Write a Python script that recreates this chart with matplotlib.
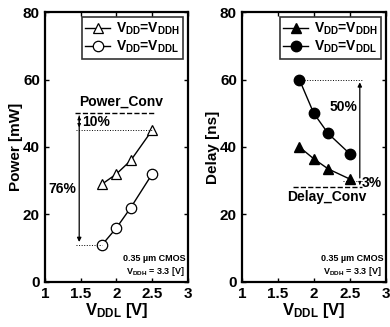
import numpy as np
import matplotlib
matplotlib.use('Agg')
import matplotlib.pyplot as plt

plt.rcParams['font.family'] = ['Liberation Sans', 'DejaVu Sans']
plt.rcParams['font.weight'] = 'bold'
plt.rcParams['mathtext.fontset'] = 'custom'
plt.rcParams['mathtext.bf'] = 'Liberation Sans:bold'
plt.rcParams['mathtext.rm'] = 'Liberation Sans:bold'
plt.rcParams['mathtext.default'] = 'bf'

# data
vddl = [1.8, 2.0, 2.2, 2.5]
power_h = [29, 32, 36, 45]
power_l = [11, 16, 22, 32]
delay_h = [40, 36.5, 33.5, 30.5]
delay_l = [60, 50, 44, 38]
power_conv = 50
delay_conv = 28

lab_h = r'V$_{DD}$=V$_{DDH}$'
lab_l = r'V$_{DD}$=V$_{DDL}$'

fig = plt.figure(figsize=(3.9, 3.27), dpi=100)
ax1 = fig.add_axes([0.115, 0.138, 0.367, 0.825])
ax2 = fig.add_axes([0.620, 0.138, 0.369, 0.825])

def style(ax, ylabel):
    ax.set_xlim(1, 3)
    ax.set_ylim(0, 80)
    ax.set_xticks([1, 1.5, 2, 2.5, 3])
    ax.set_xticklabels(['1', '1.5', '2', '2.5', '3'])
    ax.set_yticks([0, 20, 40, 60, 80])
    ax.tick_params(direction='in', top=True, right=True, labelsize=11, width=1, length=3)
    for lab in ax.get_xticklabels() + ax.get_yticklabels():
        lab.set_fontweight('bold')
    for s in ax.spines.values():
        s.set_linewidth(1.6)
    ax.set_xlabel(r'V$_{DDL}$ [V]', fontsize=12, fontweight='bold', labelpad=0)
    ax.set_ylabel(ylabel, fontsize=11, fontweight='bold', labelpad=0)
    ax.text(2.97, 7, '0.35 µm CMOS', fontsize=6.5, fontweight='bold', ha='right', va='center')
    ax.text(2.95, 3, r'V$_{DDH}$ = 3.3 [V]', fontsize=6.5, fontweight='bold', ha='right', va='center')

def legend(ax):
    leg = ax.legend(loc='upper right', fontsize=10, frameon=True, fancybox=False, edgecolor='black',
                    handlelength=1.8, handletextpad=0.4, borderpad=0.25, labelspacing=0.15,
                    borderaxespad=0.35)
    leg.get_frame().set_linewidth(1.2)

# power panel
ax1.plot(vddl, power_h, color='black', lw=1, marker='^', ms=7.5, mfc='white', mec='black', mew=0.9, label=lab_h)
ax1.plot(vddl, power_l, color='black', lw=1, marker='o', ms=7.5, mfc='white', mec='black', mew=0.9, label=lab_l)
ax1.plot([1.42, 2.54], [power_conv, power_conv], 'k--', lw=1)
ax1.plot([1.44, 2.5], [power_h[-1], power_h[-1]], 'k:', lw=0.7)
ax1.plot([1.43, 1.8], [power_l[0], power_l[0]], 'k:', lw=0.7)
ax1.annotate('', xy=(1.48, power_h[-1]), xytext=(1.48, power_conv),
             arrowprops=dict(arrowstyle='<|-|>', color='black', lw=0.7, mutation_scale=5))
ax1.annotate('', xy=(1.48, power_l[0]), xytext=(1.48, power_conv),
             arrowprops=dict(arrowstyle='-|>', color='black', lw=0.9, mutation_scale=6))
ax1.text(2.06, 53.4, 'Power_Conv', fontsize=10, fontweight='bold', ha='center', va='center')
ax1.text(1.52, 47.3, '10%', fontsize=10, fontweight='bold', ha='left', va='center')
ax1.text(1.25, 27.5, '76%', fontsize=10, fontweight='bold', ha='center', va='center')
legend(ax1)
style(ax1, 'Power [mW]')

# delay panel
ax2.plot(vddl, delay_h, color='black', lw=1, marker='^', ms=7.5, mfc='black', mec='black', label=lab_h)
ax2.plot(vddl, delay_l, color='black', lw=1, marker='o', ms=7.5, mfc='black', mec='black', label=lab_l)
ax2.plot([1.8, 2.68], [delay_l[0], delay_l[0]], 'k:', lw=0.7)
ax2.plot([1.71, 2.67], [delay_conv, delay_conv], 'k--', lw=1)
ax2.plot([2.4, 2.67], [30, 30], 'k:', lw=0.7)
ax2.annotate('', xy=(2.64, delay_l[0]), xytext=(2.64, 30),
             arrowprops=dict(arrowstyle='-|>', color='black', lw=0.9, mutation_scale=6))
ax2.annotate('', xy=(2.64, delay_conv), xytext=(2.64, 30),
             arrowprops=dict(arrowstyle='-|>', color='black', lw=0.7, mutation_scale=4))
ax2.text(2.42, 52, '50%', fontsize=10, fontweight='bold', ha='center', va='center')
ax2.text(2.67, 29.3, '3%', fontsize=10, fontweight='bold', ha='left', va='center')
ax2.text(2.18, 25.2, 'Delay_Conv', fontsize=10, fontweight='bold', ha='center', va='center')
legend(ax2)
style(ax2, 'Delay [ns]')

fig.savefig('out.png', dpi=100)
